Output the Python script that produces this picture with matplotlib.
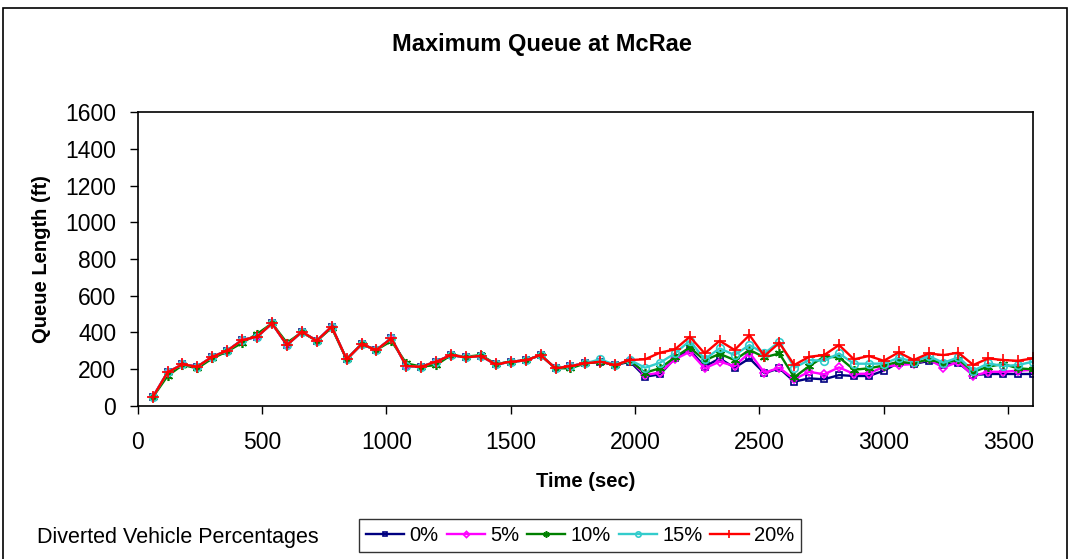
import matplotlib
matplotlib.use("Agg")
import matplotlib.pyplot as plt
from matplotlib.patches import Rectangle

plt.rcParams['font.family'] = ['Liberation Sans', 'DejaVu Sans']

# ---------------------------
# Data
# ---------------------------
time_sec = [60, 120, 180, 240, 300, 360, 420, 480, 540, 600,
            660, 720, 780, 840, 900, 960, 1020, 1080, 1140, 1200,
            1260, 1320, 1380, 1440, 1500, 1560, 1620, 1680, 1740, 1800,
            1860, 1920, 1980, 2040, 2100, 2160, 2220, 2280, 2340, 2400,
            2460, 2520, 2580, 2640, 2700, 2760, 2820, 2880, 2940, 3000,
            3060, 3120, 3180, 3240, 3300, 3360, 3420, 3480, 3540, 3600]

q_0 = [45, 182, 225, 213, 267, 300, 358, 376, 449, 331,
       403, 354, 431, 253, 335, 304, 367, 216, 213, 240,
       276, 264, 271, 225, 240, 247, 276, 204, 216, 231,
       240, 222, 240, 158, 171, 258, 304, 213, 258, 207,
       258, 177, 204, 131, 149, 144, 167, 162, 162, 191,
       234, 227, 244, 222, 234, 167, 173, 173, 173, 173]

q_5 = [45, 182, 225, 213, 267, 300, 358, 376, 449, 331,
       403, 354, 431, 253, 335, 304, 367, 216, 213, 240,
       276, 264, 271, 225, 240, 247, 276, 204, 216, 231,
       240, 222, 249, 167, 180, 253, 294, 204, 240, 216,
       289, 180, 207, 144, 185, 171, 209, 173, 175, 213,
       222, 227, 253, 207, 240, 162, 185, 185, 191, 195]

q_10 = [45, 162, 222, 204, 258, 296, 343, 391, 449, 343,
        400, 354, 425, 253, 335, 304, 353, 231, 213, 222,
        276, 267, 276, 227, 240, 247, 276, 204, 204, 231,
        240, 222, 245, 180, 204, 264, 318, 247, 283, 249,
        304, 264, 285, 155, 216, 267, 264, 196, 204, 219,
        240, 231, 253, 231, 253, 185, 213, 227, 204, 198]

q_15 = [45, 182, 225, 213, 267, 300, 358, 376, 449, 331,
        403, 354, 431, 253, 335, 304, 367, 216, 213, 240,
        276, 264, 271, 225, 240, 247, 276, 204, 216, 231,
        253, 222, 249, 207, 234, 285, 354, 253, 313, 276,
        331, 285, 349, 207, 249, 245, 285, 229, 229, 230,
        261, 240, 271, 234, 264, 191, 231, 216, 222, 240]

q_20 = [45, 182, 225, 213, 267, 300, 358, 376, 449, 331,
        403, 354, 431, 253, 335, 304, 367, 216, 213, 240,
        276, 264, 271, 225, 240, 247, 276, 204, 216, 231,
        240, 222, 249, 253, 289, 307, 376, 285, 354, 304,
        385, 271, 343, 222, 267, 276, 331, 253, 271, 245,
        291, 249, 285, 276, 289, 222, 258, 249, 245, 258]

series_labels = ['0%', '5%', '10%', '15%', '20%']
series_colors = ['#000080', '#FF00FF', '#008000', '#33CCCC', '#FF0000']
series_markers = ['s', 'D', (6, 2, 0), 'o', '+']
marker_sizes = [4.5, 4.5, 6.5, 5.5, 8.5]

x_ticks = [0, 500, 1000, 1500, 2000, 2500, 3000, 3500]
y_ticks = [0, 200, 400, 600, 800, 1000, 1200, 1400, 1600]

# ---------------------------
# Figure
# ---------------------------
W, H = 1070, 559
fig = plt.figure(figsize=(W / 100, H / 100), dpi=100)
ax = fig.add_axes([137.7 / W, 1 - 405.7 / H, (1033 - 137.7) / W, (405.7 - 112.3) / H])

for vals, lab, col, mk, ms in zip([q_0, q_5, q_10, q_15, q_20], series_labels,
                                  series_colors, series_markers, marker_sizes):
    ax.plot(time_sec, vals, color=col, lw=1.7, marker=mk, ms=ms,
            markerfacecolor='none', markeredgecolor=col, markeredgewidth=1.2,
            label=lab)

ax.set_xlim(0, 3600)
ax.set_ylim(0, 1600)
ax.set_xticks(x_ticks)
ax.set_yticks(y_ticks)
ax.tick_params(direction='out', length=5.5, width=1, labelsize=16.5, pad=10)
ax.tick_params(axis='x', pad=12.5)
for s in ax.spines.values():
    s.set_linewidth(1.2)
    s.set_color('black')

ax.set_xlabel('Time (sec)', fontsize=14.5, fontweight='bold', labelpad=13)
ax.set_ylabel('Queue Length (ft)', fontsize=14.5, fontweight='bold', labelpad=10)

fig.text(542 / W, 1 - 45 / H, 'Maximum Queue at McRae', fontsize=17,
         fontweight='bold', ha='center', va='center')

fig.text(37 / W, 1 - 537 / H, 'Diverted Vehicle Percentages', fontsize=15.5,
         ha='left', va='center')

leg = fig.legend(loc='center', bbox_to_anchor=(580 / W, 1 - 535.5 / H), ncol=5,
                 fontsize=14.5, frameon=True, fancybox=False, handlelength=1.9,
                 handletextpad=0.25, columnspacing=0.4, borderpad=0.35,
                 markerscale=0.7)
leg.get_frame().set_edgecolor('black')
leg.get_frame().set_linewidth(1.0)

# outer chart border
fig.patches.append(Rectangle((3 / W, -0.05), 1064 / W, 1.05 - 8 / H,
                             transform=fig.transFigure, fill=False,
                             edgecolor='black', lw=1.2))

fig.savefig('out.png', dpi=100)
